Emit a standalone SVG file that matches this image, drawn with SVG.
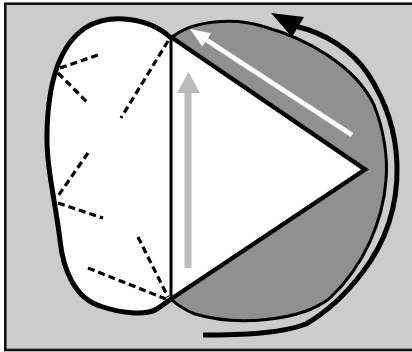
<svg xmlns="http://www.w3.org/2000/svg" width="412" height="352" viewBox="0 0 412 352">
<style>
.dash{fill:none;stroke:#000;stroke-width:3.2;stroke-dasharray:7,4}
</style>
<rect x="5.3" y="3.7" width="420" height="346.3" fill="#cccccc" stroke="#111" stroke-width="2.6"/>
<g id="right-lobe">
<path d="M171,38 C192,20 235,17 265,27 C305,38 355,65 374,105 C384,130 388,158 386,180 C383,220 365,265 330,298 C300,322 235,326 195,314 Q180,308 171,299 Z" fill="#909090" stroke="#000" stroke-width="3"/>
</g>
<g id="left-lobe">
<path d="M171,38 C150,18 110,12 85,28 C60,45 48,80 47,133 C46,165 55,200 60,240 C63,270 75,298 100,306 C120,313 145,316 157,309 L171,299" fill="#fff" stroke="#000" stroke-width="5" stroke-linejoin="round"/>
<line class="dash" x1="60" y1="68" x2="101" y2="54"/>
<line class="dash" x1="58" y1="73" x2="88" y2="103"/>
<line class="dash" x1="168" y1="41" x2="121" y2="118"/>
<line class="dash" x1="88" y1="153" x2="58" y2="196"/>
<line class="dash" x1="58" y1="203" x2="103" y2="218"/>
<line class="dash" x1="138" y1="237" x2="168" y2="297"/>
<line class="dash" x1="88" y1="268" x2="166" y2="299"/>
</g>
<g id="triangle">
<path d="M171,37 L365,169.5 L171,299" fill="#fff" stroke="#000" stroke-width="4.5" stroke-linejoin="miter"/>
<line x1="171" y1="37" x2="171" y2="299" stroke="#000" stroke-width="3"/>
</g>
<g id="connectors">
<line x1="188" y1="268" x2="188" y2="90" stroke="#bbbbbb" stroke-width="7"/>
<polygon points="188.5,72 200,93 177,93" fill="#bbbbbb"/>
<line x1="352" y1="135" x2="205" y2="39" stroke="#fff" stroke-width="5"/>
<polygon points="190,29 211.1,33.2 202.3,46.6" fill="#fff"/>
<path d="M295,26 C325,33 352,50 368,74 C385,100 396,130 397,165 C398,205 386,242 362,273 C346,294 330,310 306,324 C280,334 240,335 203,335" fill="none" stroke="#000" stroke-width="5"/>
<polygon points="271,13 304,17 292,37" fill="#000"/>
</g>
</svg>
